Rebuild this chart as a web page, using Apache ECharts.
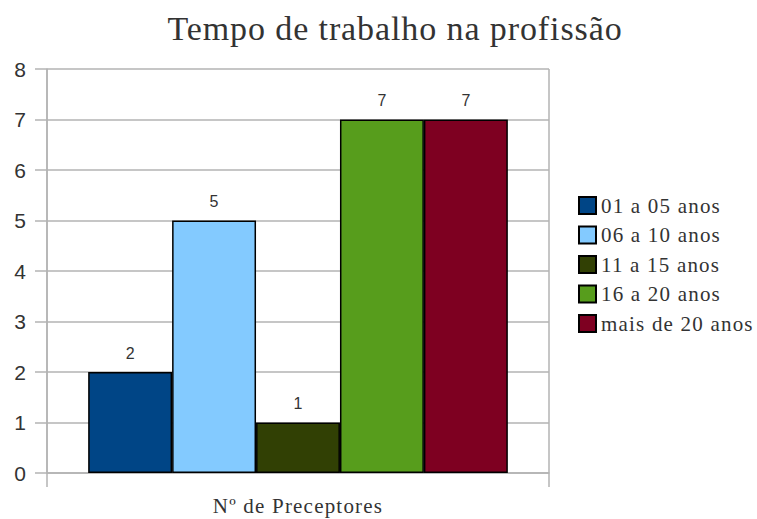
<!DOCTYPE html>
<html><head><meta charset="utf-8">
<script src="https://cdn.jsdelivr.net/npm/echarts@6/dist/echarts.min.js"></script>
<style>html,body{margin:0;padding:0;background:#fff}#c{width:757px;height:519px}</style>
</head><body><div id="c"></div>
<script>
const title = 'Tempo de trabalho na profissão';
const categories = ['Nº de Preceptores'];
const seriesNames = ['01 a 05 anos', '06 a 10 anos', '11 a 15 anos', '16 a 20 anos', 'mais de 20 anos'];
const seriesValues = [2, 5, 1, 7, 7];
const seriesColors = ['#004586', '#83caff', '#314004', '#579d1c', '#7e0021'];

const chart = echarts.init(document.getElementById('c'), null, { renderer: 'svg' });
const series = seriesNames.map((n, i) => ({
  name: n, type: 'bar', data: [seriesValues[i]],
  barGap: '0%', barCategoryGap: '16.4%',
  itemStyle: { color: seriesColors[i], borderColor: '#000', borderWidth: 1.5 },
  label: { show: true, position: 'top', distance: 11, color: '#333', fontFamily: 'Liberation Sans', fontSize: 16 }
}));
chart.setOption({
  animation: false,
  title: { text: title, left: 390, textAlign: 'center', top: 6,
    textStyle: { fontFamily: 'Liberation Serif', fontSize: 34, fontWeight: 'normal', color: '#333' } },
  grid: { left: 47, right: 208, top: 69, bottom: 46, containLabel: false },
  legend: { orient: 'vertical', left: 573, top: 190, itemWidth: 17, itemHeight: 17, itemGap: 8.5,
    icon: 'rect', textStyle: { fontFamily: 'Liberation Serif', fontSize: 21, color: '#333' },
    data: seriesNames },
  xAxis: { type: 'category', data: categories,
    axisLine: { show: true, lineStyle: { color: '#b3b3b3', width: 1.5 } },
    axisTick: { show: true, length: 14, lineStyle: { color: '#b3b3b3', width: 1.5 } },
    splitLine: { show: true, lineStyle: { color: '#b3b3b3', width: 1.5 } },
    axisLabel: { margin: 22, fontFamily: 'Liberation Serif', fontSize: 21, color: '#333' } },
  yAxis: { type: 'value', min: 0, max: 8, interval: 1,
    axisLine: { show: true, lineStyle: { color: '#b3b3b3', width: 1.5 } },
    axisTick: { show: true, length: 12, lineStyle: { color: '#b3b3b3', width: 1.5 } },
    splitLine: { show: true, lineStyle: { color: '#b3b3b3', width: 1.5 } },
    axisLabel: { margin: 21, fontFamily: 'Liberation Sans', fontSize: 21, color: '#333' } },
  series: series
});
// slightly widen letter spacing of the serif texts to match the reference rendering
const serifTexts = new Set([title].concat(categories, seriesNames));
document.querySelectorAll('#c text').forEach(t => {
  if (serifTexts.has(t.textContent)) {
    t.style.letterSpacing = t.textContent === title ? '0.9px' : '1.2px';
  }
});
</script></body></html>
